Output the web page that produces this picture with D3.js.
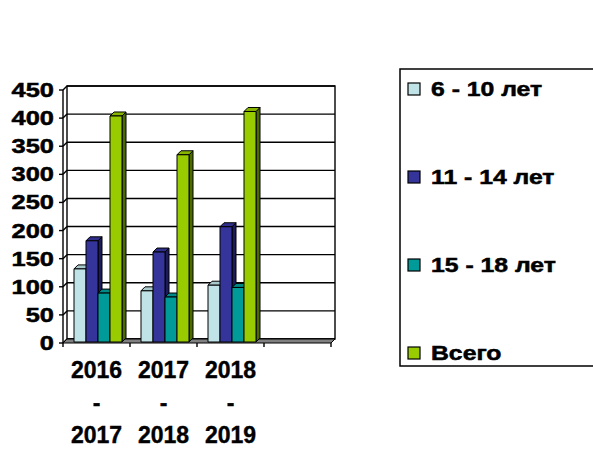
<!DOCTYPE html>
<html>
<head>
<meta charset="utf-8">
<script src="https://d3js.org/d3.v7.min.js"></script>
<style>
  body { margin: 0; background: #fff; }
  svg { display: block; font-family: "Liberation Sans", Arial, sans-serif; font-weight: bold; }
</style>
</head>
<body>
<svg id="chart" width="593" height="450"></svg>
<script>
// data
const categories = ["2016 - 2017", "2017 - 2018", "2018 - 2019", ""];
const seriesNames = ["6 - 10 лет", "11 - 14 лет", "15 - 18 лет", "Всего"];
const age6to10 = [130, 91, 101];
const age11to14 = [180, 160, 205];
const age15to18 = [87, 80, 97];
const total = [402, 333, 410];
const yTicks = [0, 50, 100, 150, 200, 250, 300, 350, 400, 450];

const seriesValues = [age6to10, age11to14, age15to18, total];
const fills = ["#bfe3e6", "#35349a", "#009b99", "#99cc00"];
const sides = ["#7fa4a6", "#1c1b5c", "#005c5a", "#4d6a00"];

const svg = d3.select("#chart");
const depth = 4;          // depth of the walls
const barDepth = 4;       // depth of each column
const left = 63, right = 331, floorY = 343, topY = 90;

const x0 = d3.scaleBand().domain(categories.map((c, i) => i)).range([left, right]);
const x1 = d3.scaleBand().domain(d3.range(seriesNames.length)).range([0, 48]);
const y = d3.scaleLinear().domain([0, 450]).range([floorY, topY]);

// back wall
svg.append("rect")
  .attr("x", left + depth).attr("y", y(450) - depth)
  .attr("width", right - left).attr("height", y(0) - y(450))
  .attr("fill", "#fff").attr("stroke", "#000").attr("stroke-width", 1.4);

// gridlines on back wall + side wall
const grid = svg.append("g");
yTicks.forEach(t => {
  grid.append("line")
    .attr("x1", left + depth).attr("x2", right + depth)
    .attr("y1", y(t) - depth).attr("y2", y(t) - depth)
    .attr("stroke", "#000").attr("stroke-width", 1.4);
  grid.append("line")
    .attr("x1", left).attr("x2", left + depth)
    .attr("y1", y(t)).attr("y2", y(t) - depth)
    .attr("stroke", "#000").attr("stroke-width", 1.4);
});

// side wall front edge
svg.append("line")
  .attr("x1", left).attr("x2", left)
  .attr("y1", y(450)).attr("y2", y(0))
  .attr("stroke", "#000").attr("stroke-width", 1.4);

// floor
svg.append("path")
  .attr("d", `M${left},${floorY} L${right},${floorY} L${right + depth},${floorY - depth} L${left + depth},${floorY - depth} Z`)
  .attr("fill", "#808080").attr("stroke", "#000").attr("stroke-width", 1);

// y ticks + labels
const yAxis = svg.append("g");
yTicks.forEach(t => {
  yAxis.append("line")
    .attr("x1", left - 4).attr("x2", left)
    .attr("y1", y(t)).attr("y2", y(t))
    .attr("stroke", "#000").attr("stroke-width", 1.4);
  yAxis.append("text")
    .attr("transform", `translate(54,${y(t) + 7}) scale(1.27,1)`)
    .attr("text-anchor", "end")
    .attr("font-size", 20)
    .attr("stroke", "#000").attr("stroke-width", 0.5)
    .text(t);
});

// category ticks
d3.range(categories.length + 1).forEach(i => {
  const xx = left + i * x0.step();
  svg.append("line")
    .attr("x1", xx).attr("x2", xx)
    .attr("y1", floorY).attr("y2", floorY + 4)
    .attr("stroke", "#000").attr("stroke-width", 1.4);
});

// category labels, split into lines
categories.forEach((c, i) => {
  if (!c) return;
  const parts = c.split(" ");
  const t = svg.append("text")
    .attr("text-anchor", "middle")
    .attr("font-size", 23)
    .attr("stroke", "#000").attr("stroke-width", 0.4);
  parts.forEach((p, k) => {
    t.append("tspan")
      .attr("x", x0(i) + x0.bandwidth() / 2)
      .attr("y", 378 + k * 32.5)
      .text(p);
  });
});

// 3d columns
const bars = svg.append("g");
categories.forEach((c, i) => {
  seriesValues.forEach((vals, s) => {
    const v = vals[i];
    if (v == null) return;
    const bx = x0(i) + 10 + x1(s) + 1;
    const bw = x1.bandwidth();
    const by = y(v) - 1, bb = y(0) - 1;
    const g = bars.append("g").attr("stroke", "#000").attr("stroke-width", 1).attr("stroke-linejoin", "round");
    // side
    g.append("path")
      .attr("d", `M${bx + bw},${bb} L${bx + bw + barDepth},${bb - barDepth} L${bx + bw + barDepth},${by - barDepth} L${bx + bw},${by} Z`)
      .attr("fill", sides[s]);
    // top
    g.append("path")
      .attr("d", `M${bx},${by} L${bx + barDepth},${by - barDepth} L${bx + bw + barDepth},${by - barDepth} L${bx + bw},${by} Z`)
      .attr("fill", d3.color(fills[s]).darker(0.35));
    // front
    g.append("rect")
      .attr("x", bx).attr("y", by)
      .attr("width", bw).attr("height", bb - by)
      .attr("fill", fills[s]);
  });
});

// legend
svg.append("rect")
  .attr("x", 400).attr("y", 69)
  .attr("width", 210).attr("height", 297)
  .attr("fill", "#fff").attr("stroke", "#000").attr("stroke-width", 1.5);

const legendY = d3.scalePoint().domain(d3.range(seriesNames.length)).range([89, 353]);
seriesNames.forEach((n, s) => {
  const ly = legendY(s);
  svg.append("rect")
    .attr("x", 408).attr("y", ly - 6)
    .attr("width", 12).attr("height", 12)
    .attr("fill", fills[s]).attr("stroke", "#000").attr("stroke-width", 1.2);
  svg.append("text")
    .attr("transform", `translate(431,${ly + 7}) scale(1.27,1)`)
    .attr("font-size", 19.5)
    .attr("stroke", "#000").attr("stroke-width", 0.5)
    .text(n);
});
</script>
</body>
</html>
